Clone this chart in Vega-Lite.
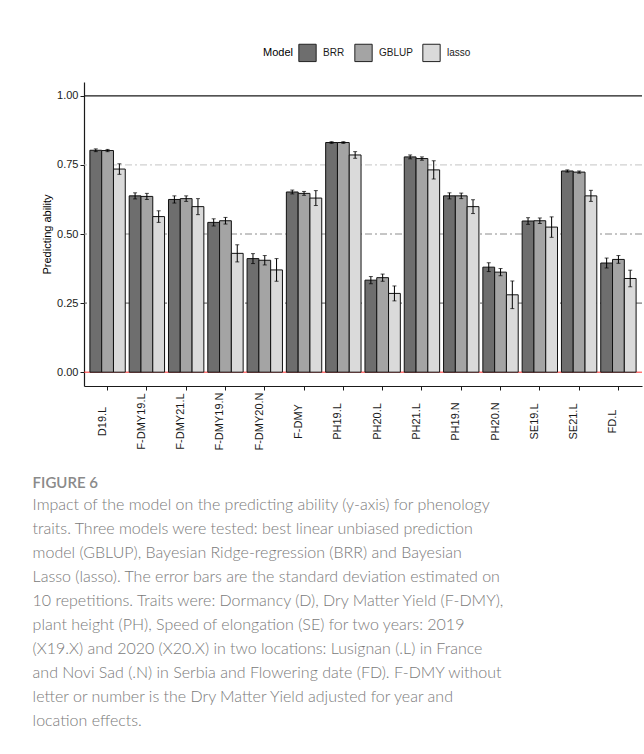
{
  "$schema": "https://vega.github.io/schema/vega-lite/v6.json",
  "width": 558,
  "height": 304,
  "padding": {"left": 32, "top": 43, "right": 0, "bottom": 0},
  "background": "white",
  "title": {
    "text": "\u00a0\u00a0FIGURE 6",
    "subtitle": [
      "Impact of the model on the predicting ability (y-axis) for phenology",
      "traits. Three models were tested: best linear unbiased prediction",
      "model (GBLUP), Bayesian Ridge-regression (BRR) and Bayesian",
      "Lasso (lasso). The error bars are the standard deviation estimated on",
      "10 repetitions. Traits were: Dormancy (D), Dry Matter Yield (F-DMY),",
      "plant height (PH), Speed of elongation (SE) for two years: 2019",
      "(X19.X) and 2020 (X20.X) in two locations: Lusignan (.L) in France",
      "and Novi Sad (.N) in Serbia and Flowering date (FD). F-DMY without",
      "letter or number is the Dry Matter Yield adjusted for year and",
      "location effects."
    ],
    "orient": "bottom",
    "anchor": "start",
    "frame": "bounds",
    "dx": -9,
    "offset": 26,
    "font": "Lato",
    "fontSize": 15,
    "fontWeight": 600,
    "color": "#8a8a8a",
    "subtitleFont": "Lato",
    "subtitleFontSize": 16,
    "subtitleFontWeight": 300,
    "subtitleColor": "#7a7a7a",
    "subtitleLineHeight": 24,
    "subtitlePadding": 6
  },
  "datasets": {
    "pa": [
      {"trait": "D19.L", "model": "BRR", "value": 0.803, "lo": 0.798, "hi": 0.808},
      {"trait": "D19.L", "model": "GBLUP", "value": 0.802, "lo": 0.798, "hi": 0.806},
      {"trait": "D19.L", "model": "lasso", "value": 0.735, "lo": 0.716, "hi": 0.754},
      {"trait": "F-DMY19.L", "model": "BRR", "value": 0.638, "lo": 0.627, "hi": 0.649},
      {"trait": "F-DMY19.L", "model": "GBLUP", "value": 0.636, "lo": 0.625, "hi": 0.647},
      {"trait": "F-DMY19.L", "model": "lasso", "value": 0.563, "lo": 0.542, "hi": 0.584},
      {"trait": "F-DMY21.L", "model": "BRR", "value": 0.625, "lo": 0.612, "hi": 0.638},
      {"trait": "F-DMY21.L", "model": "GBLUP", "value": 0.628, "lo": 0.618, "hi": 0.638},
      {"trait": "F-DMY21.L", "model": "lasso", "value": 0.599, "lo": 0.570, "hi": 0.628},
      {"trait": "F-DMY19.N", "model": "BRR", "value": 0.542, "lo": 0.529, "hi": 0.555},
      {"trait": "F-DMY19.N", "model": "GBLUP", "value": 0.548, "lo": 0.536, "hi": 0.560},
      {"trait": "F-DMY19.N", "model": "lasso", "value": 0.430, "lo": 0.399, "hi": 0.461},
      {"trait": "F-DMY20.N", "model": "BRR", "value": 0.411, "lo": 0.393, "hi": 0.429},
      {"trait": "F-DMY20.N", "model": "GBLUP", "value": 0.405, "lo": 0.388, "hi": 0.422},
      {"trait": "F-DMY20.N", "model": "lasso", "value": 0.370, "lo": 0.329, "hi": 0.411},
      {"trait": "F-DMY", "model": "BRR", "value": 0.652, "lo": 0.645, "hi": 0.659},
      {"trait": "F-DMY", "model": "GBLUP", "value": 0.647, "lo": 0.640, "hi": 0.654},
      {"trait": "F-DMY", "model": "lasso", "value": 0.630, "lo": 0.603, "hi": 0.657},
      {"trait": "PH19.L", "model": "BRR", "value": 0.831, "lo": 0.828, "hi": 0.834},
      {"trait": "PH19.L", "model": "GBLUP", "value": 0.831, "lo": 0.828, "hi": 0.834},
      {"trait": "PH19.L", "model": "lasso", "value": 0.786, "lo": 0.774, "hi": 0.798},
      {"trait": "PH20.L", "model": "BRR", "value": 0.333, "lo": 0.320, "hi": 0.346},
      {"trait": "PH20.L", "model": "GBLUP", "value": 0.342, "lo": 0.329, "hi": 0.355},
      {"trait": "PH20.L", "model": "lasso", "value": 0.285, "lo": 0.258, "hi": 0.312},
      {"trait": "PH21.L", "model": "BRR", "value": 0.779, "lo": 0.772, "hi": 0.786},
      {"trait": "PH21.L", "model": "GBLUP", "value": 0.773, "lo": 0.767, "hi": 0.779},
      {"trait": "PH21.L", "model": "lasso", "value": 0.732, "lo": 0.699, "hi": 0.765},
      {"trait": "PH19.N", "model": "BRR", "value": 0.638, "lo": 0.627, "hi": 0.649},
      {"trait": "PH19.N", "model": "GBLUP", "value": 0.638, "lo": 0.628, "hi": 0.648},
      {"trait": "PH19.N", "model": "lasso", "value": 0.599, "lo": 0.574, "hi": 0.624},
      {"trait": "PH20.N", "model": "BRR", "value": 0.380, "lo": 0.364, "hi": 0.396},
      {"trait": "PH20.N", "model": "GBLUP", "value": 0.362, "lo": 0.349, "hi": 0.375},
      {"trait": "PH20.N", "model": "lasso", "value": 0.280, "lo": 0.230, "hi": 0.330},
      {"trait": "SE19.L", "model": "BRR", "value": 0.547, "lo": 0.535, "hi": 0.559},
      {"trait": "SE19.L", "model": "GBLUP", "value": 0.548, "lo": 0.538, "hi": 0.558},
      {"trait": "SE19.L", "model": "lasso", "value": 0.525, "lo": 0.488, "hi": 0.562},
      {"trait": "SE21.L", "model": "BRR", "value": 0.728, "lo": 0.724, "hi": 0.732},
      {"trait": "SE21.L", "model": "GBLUP", "value": 0.724, "lo": 0.720, "hi": 0.728},
      {"trait": "SE21.L", "model": "lasso", "value": 0.638, "lo": 0.618, "hi": 0.658},
      {"trait": "FD.L", "model": "BRR", "value": 0.395, "lo": 0.377, "hi": 0.413},
      {"trait": "FD.L", "model": "GBLUP", "value": 0.408, "lo": 0.394, "hi": 0.422},
      {"trait": "FD.L", "model": "lasso", "value": 0.339, "lo": 0.309, "hi": 0.369}
    ]
  },
  "layer": [
    {
      "data": {"values": [{"level": 0.25}]},
      "mark": {"type": "rule", "color": "#555555", "strokeWidth": 1, "strokeDash": [7, 3, 2, 3]},
      "encoding": {"y": {"field": "level", "type": "quantitative"}}
    },
    {
      "data": {"values": [{"level": 0.5}]},
      "mark": {"type": "rule", "color": "#8c8c8c", "strokeWidth": 1, "strokeDash": [7, 3, 2, 3]},
      "encoding": {"y": {"field": "level", "type": "quantitative"}}
    },
    {
      "data": {"values": [{"level": 0.75}]},
      "mark": {"type": "rule", "color": "#c4c4c4", "strokeWidth": 1, "strokeDash": [7, 3, 2, 3]},
      "encoding": {"y": {"field": "level", "type": "quantitative"}}
    },
    {
      "data": {"values": [{"level": 1}]},
      "mark": {"type": "rule", "color": "#1a1a1a", "strokeWidth": 1.2},
      "encoding": {"y": {"field": "level", "type": "quantitative"}}
    },
    {
      "data": {"values": [{"level": 0}]},
      "mark": {"type": "rule", "color": "#ff3030", "strokeWidth": 1},
      "encoding": {"y": {"field": "level", "type": "quantitative"}}
    },
    {
      "data": {"name": "pa"},
      "mark": {"type": "bar", "stroke": "#111111", "strokeWidth": 1},
      "encoding": {
        "x": {
          "field": "trait", "type": "nominal",
          "sort": ["D19.L", "F-DMY19.L", "F-DMY21.L", "F-DMY19.N", "F-DMY20.N", "F-DMY", "PH19.L", "PH20.L", "PH21.L", "PH19.N", "PH20.N", "SE19.L", "SE21.L", "FD.L"],
          "scale": {"paddingInner": 0.1, "paddingOuter": 0.15},
          "axis": {
            "title": null,
            "labelAngle": 270,
            "labelAlign": "center",
            "labelBaseline": "bottom",
            "labelPadding": 31,
            "labelFont": "Liberation Sans",
            "labelFontSize": 11,
            "labelColor": "#1a1a1a",
            "domainColor": "#1a1a1a",
            "domainWidth": 1.2,
            "tickColor": "#1a1a1a",
            "tickSize": 4,
            "grid": false
          }
        },
        "xOffset": {
          "field": "model", "type": "nominal",
          "scale": {"paddingInner": 0, "paddingOuter": 0}
        },
        "y": {
          "field": "value", "type": "quantitative",
          "scale": {"domain": [-0.05, 1.05], "nice": false, "zero": false},
          "axis": {
            "title": "Predicting ability",
            "titleFont": "Liberation Sans",
            "titleFontSize": 11,
            "titleFontWeight": "normal",
            "titleColor": "#000000",
            "titlePadding": 4,
            "values": [0, 0.25, 0.5, 0.75, 1],
            "format": ".2f",
            "labelFont": "Liberation Sans",
            "labelFontSize": 11,
            "labelColor": "#1a1a1a",
            "labelPadding": 2,
            "domainColor": "#1a1a1a",
            "domainWidth": 1.2,
            "tickColor": "#1a1a1a",
            "tickSize": 4,
            "grid": false
          }
        },
        "fill": {
          "field": "model", "type": "nominal",
          "scale": {"domain": ["BRR", "GBLUP", "lasso"], "range": ["#6e6e6e", "#a4a4a4", "#dadada"]},
          "legend": {
            "title": "Model",
            "orient": "none",
            "legendX": 179,
            "legendY": -39,
            "direction": "horizontal",
            "titleOrient": "left",
            "titleFont": "Liberation Sans",
            "titleFontSize": 11,
            "titleFontWeight": "normal",
            "titleColor": "#000000",
            "titlePadding": 5,
            "labelFont": "Liberation Sans",
            "labelFontSize": 10,
            "labelColor": "#1a1a1a",
            "labelOffset": 6,
            "columnPadding": 7,
            "symbolType": "square",
            "symbolSize": 300,
            "symbolStrokeColor": "#222222",
            "symbolStrokeWidth": 1,
            "symbolOpacity": 1,
            "padding": 0
          }
        }
      }
    },
    {
      "data": {"name": "pa"},
      "mark": {"type": "rule", "color": "#000000", "strokeWidth": 1},
      "encoding": {
        "x": {"field": "trait", "type": "nominal", "sort": ["D19.L", "F-DMY19.L", "F-DMY21.L", "F-DMY19.N", "F-DMY20.N", "F-DMY", "PH19.L", "PH20.L", "PH21.L", "PH19.N", "PH20.N", "SE19.L", "SE21.L", "FD.L"]},
        "xOffset": {"field": "model", "type": "nominal"},
        "y": {"field": "lo", "type": "quantitative"},
        "y2": {"field": "hi"}
      }
    },
    {
      "data": {"name": "pa"},
      "mark": {"type": "tick", "color": "#000000", "size": 4, "thickness": 1},
      "encoding": {
        "x": {"field": "trait", "type": "nominal", "sort": ["D19.L", "F-DMY19.L", "F-DMY21.L", "F-DMY19.N", "F-DMY20.N", "F-DMY", "PH19.L", "PH20.L", "PH21.L", "PH19.N", "PH20.N", "SE19.L", "SE21.L", "FD.L"]},
        "xOffset": {"field": "model", "type": "nominal"},
        "y": {"field": "lo", "type": "quantitative"}
      }
    },
    {
      "data": {"name": "pa"},
      "mark": {"type": "tick", "color": "#000000", "size": 4, "thickness": 1},
      "encoding": {
        "x": {"field": "trait", "type": "nominal", "sort": ["D19.L", "F-DMY19.L", "F-DMY21.L", "F-DMY19.N", "F-DMY20.N", "F-DMY", "PH19.L", "PH20.L", "PH21.L", "PH19.N", "PH20.N", "SE19.L", "SE21.L", "FD.L"]},
        "xOffset": {"field": "model", "type": "nominal"},
        "y": {"field": "hi", "type": "quantitative"}
      }
    }
  ],
  "config": {
    "view": {"stroke": null}
  }
}
